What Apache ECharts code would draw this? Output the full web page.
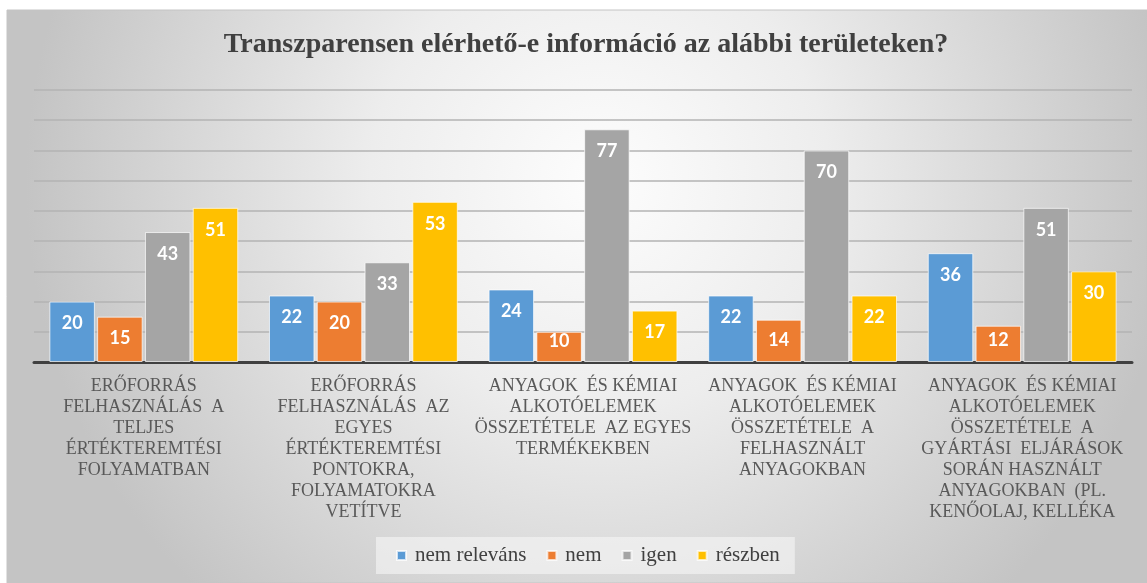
<!DOCTYPE html>
<html>
<head>
<meta charset="utf-8">
<script src="https://cdn.jsdelivr.net/npm/echarts@6/dist/echarts.min.js"></script>
<style>
  html, body { margin: 0; padding: 0; background: #fff; }
  #chart { width: 1147px; height: 583px; }
</style>
</head>
<body>
<div id="chart"></div>
<script>
// categories (wrapped as in the original)
const categories = [
  "ERŐFORRÁS\nFELHASZNÁLÁS  A\nTELJES\nÉRTÉKTEREMTÉSI\nFOLYAMATBAN",
  "ERŐFORRÁS\nFELHASZNÁLÁS  AZ\nEGYES\nÉRTÉKTEREMTÉSI\nPONTOKRA,\nFOLYAMATOKRA\nVETÍTVE",
  "ANYAGOK  ÉS KÉMIAI\nALKOTÓELEMEK\nÖSSZETÉTELE  AZ EGYES\nTERMÉKEKBEN",
  "ANYAGOK  ÉS KÉMIAI\nALKOTÓELEMEK\nÖSSZETÉTELE  A\nFELHASZNÁLT\nANYAGOKBAN",
  "ANYAGOK  ÉS KÉMIAI\nALKOTÓELEMEK\nÖSSZETÉTELE  A\nGYÁRTÁSI  ELJÁRÁSOK\nSORÁN HASZNÁLT\nANYAGOKBAN  (PL.\nKENŐOLAJ, KELLÉKA"
];

const nemRelevans = [20, 22, 24, 22, 36];
const nem = [15, 20, 10, 14, 12];
const igen = [43, 33, 77, 70, 51];
const reszben = [51, 53, 17, 22, 30];

const seriesNames = ["nem releváns", "nem", "igen", "részben"];
const colors = ["#5B9BD5", "#ED7D31", "#A5A5A5", "#FFC000"];

const serif = "Liberation Serif";
const chartDom = echarts.init(document.getElementById("chart"));

// label sits ~13px below the bar top, but stays inside short bars
const pxPerUnit = 272 / 90;
const withLabels = arr => arr.map(v => ({
  value: v,
  label: { distance: Math.max(0, Math.min(13, v * pxPerUnit - 31)) }
}));

const makeSeries = (name, arr, i) => ({
  name: name,
  type: "bar",
  data: withLabels(arr),
  barGap: "5%",
  barCategoryGap: "14%",
  itemStyle: {
    color: colors[i],
    borderColor: "rgba(255,255,255,0.7)",
    borderWidth: 1
  },
  label: {
    show: true,
    position: "insideTop",
    color: "#fff",
    fontFamily: "Lato",
    fontWeight: "bold",
    fontSize: 18
  }
});

chartDom.setOption({
  animation: false,
  textStyle: { fontFamily: serif },
  graphic: [
    {
      type: "rect",
      z: -10,
      silent: true,
      shape: { x: 7, y: 10, width: 1140, height: 573 },
      style: {
        fill: new echarts.graphic.RadialGradient(0.52, 0.3, 1, [
          { offset: 0, color: "#fdfdfd" },
          { offset: 0.4, color: "#ededed" },
          { offset: 1, color: "#c4c4c4" }
        ]),
        stroke: "#c4c4c4",
        lineWidth: 1
      }
    }
  ],
  title: {
    text: "Transzparensen elérhető-e információ az alábbi területeken?",
    left: 581,
    textAlign: "center",
    top: 26,
    textStyle: {
      fontFamily: serif,
      fontWeight: "bold",
      fontSize: 28,
      color: "#404040"
    }
  },
  legend: {
    data: seriesNames,
    left: 376,
    top: 537,
    padding: [8, 15, 8, 20],
    backgroundColor: "rgba(246,246,246,0.6)",
    itemWidth: 9,
    itemHeight: 9,
    itemGap: 20,
    icon: "rect",
    textStyle: {
      fontFamily: serif,
      fontSize: 21,
      color: "#404040",
      padding: [0, 0, 0, 4]
    }
  },
  grid: {
    left: 34,
    right: 15,
    top: 90,
    bottom: 221
  },
  xAxis: {
    type: "category",
    data: categories,
    axisLine: { lineStyle: { color: "#404040", width: 3 } },
    axisTick: { show: false },
    axisLabel: {
      interval: 0,
      margin: 14,
      fontFamily: serif,
      fontSize: 18,
      lineHeight: 21,
      color: "#595959",
      align: "center"
    }
  },
  yAxis: {
    type: "value",
    min: 0,
    max: 90,
    interval: 10,
    axisLabel: { show: false },
    axisLine: { show: false },
    axisTick: { show: false },
    splitLine: { lineStyle: { color: "#b3b3b3", width: 1.5 } }
  },
  series: [
    makeSeries(seriesNames[0], nemRelevans, 0),
    makeSeries(seriesNames[1], nem, 1),
    makeSeries(seriesNames[2], igen, 2),
    makeSeries(seriesNames[3], reszben, 3)
  ]
});
</script>
</body>
</html>
